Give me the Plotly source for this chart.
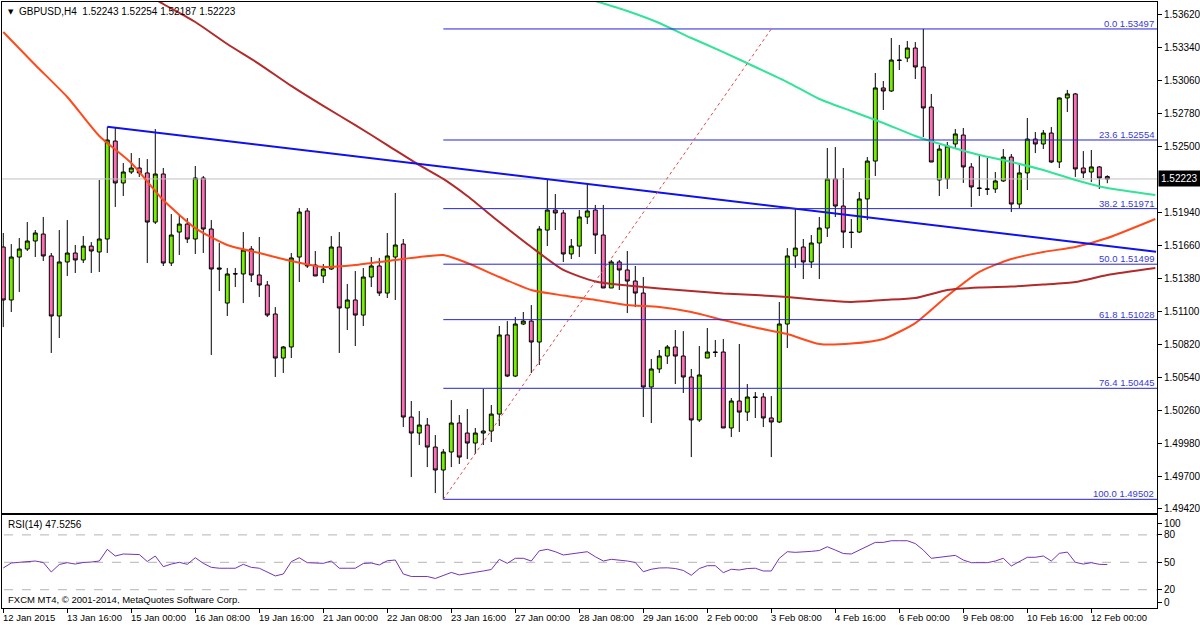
import plotly.graph_objects as go

# ---------------- data ----------------
BARS = list(range(139))
OPEN = [1.51645, 1.51195, 1.51560, 1.51628, 1.51696, 1.51755, 1.51569, 1.51059, 1.51518, 1.51594,
        1.51535, 1.51653, 1.51603, 1.51713, 1.52545, 1.52189, 1.52282, 1.52316, 1.52274, 1.51857,
        1.52265, 1.51509, 1.51772, 1.51840, 1.51713, 1.52231, 1.51798, 1.51467, 1.51169, 1.51416,
        1.51416, 1.51628, 1.51407, 1.51322, 1.51076, 1.50702, 1.50796, 1.51560, 1.51951, 1.51492,
        1.51399, 1.51458, 1.51645, 1.51127, 1.51195, 1.51067, 1.51390, 1.51484, 1.51254, 1.51560,
        1.51670, 1.50201, 1.50065, 1.50133, 1.49946, 1.49751, 1.49904, 1.50150, 1.50065, 1.49980,
        1.50065, 1.50082, 1.50226, 1.50898, 1.50549, 1.50991, 1.51016, 1.50838, 1.51789, 1.51959,
        1.51934, 1.51586, 1.51653, 1.51900, 1.51959, 1.51747, 1.51297, 1.51518, 1.51450, 1.51356,
        1.51254, 1.50456, 1.50609, 1.50719, 1.50796, 1.50719, 1.50541, 1.50176, 1.50702, 1.50753,
        1.50753, 1.50108, 1.50337, 1.50243, 1.50371, 1.50371, 1.50193, 1.50159, 1.50991, 1.51569,
        1.51645, 1.51518, 1.51679, 1.51806, 1.52223, 1.51993, 1.51772, 1.51772, 1.52053, 1.52375,
        1.52996, 1.52970, 1.53233, 1.53250, 1.53335, 1.53174, 1.52834, 1.52214, 1.52223, 1.52520,
        1.52596, 1.52325, 1.52146, 1.52138, 1.52138, 1.52206, 1.52409, 1.52010, 1.52274, 1.52562,
        1.52520, 1.52613, 1.52367, 1.52911, 1.52945, 1.52316, 1.52282, 1.52325, 1.52243]
HIGH = [1.51764, 1.51670, 1.51721, 1.51857, 1.51789, 1.51900, 1.51594, 1.51789, 1.51874, 1.51662,
        1.51738, 1.51687, 1.52214, 1.52664, 1.52656, 1.52358, 1.52443, 1.52401, 1.52392, 1.52647,
        1.52316, 1.51925, 1.51925, 1.51891, 1.52333, 1.52248, 1.51874, 1.51679, 1.51467, 1.51467,
        1.51772, 1.51653, 1.51730, 1.51356, 1.51135, 1.50804, 1.51594, 1.51976, 1.51976, 1.51611,
        1.51501, 1.51738, 1.51772, 1.51331, 1.51441, 1.51467, 1.51560, 1.51552, 1.51764, 1.52104,
        1.51713, 1.50337, 1.50252, 1.50193, 1.50048, 1.49929, 1.50345, 1.50218, 1.50269, 1.50108,
        1.50439, 1.50303, 1.50974, 1.51016, 1.51050, 1.51093, 1.51152, 1.51823, 1.52214, 1.52095,
        1.51959, 1.51713, 1.51959, 1.52189, 1.52002, 1.52002, 1.51535, 1.51535, 1.51611, 1.51484,
        1.51390, 1.50694, 1.50770, 1.50813, 1.50940, 1.50931, 1.50609, 1.50804, 1.50957, 1.50855,
        1.50864, 1.50362, 1.50821, 1.50481, 1.50413, 1.50405, 1.50379, 1.51178, 1.51636, 1.51968,
        1.51713, 1.51747, 1.51900, 1.52486, 1.52494, 1.52316, 1.51883, 1.52112, 1.52409, 1.53123,
        1.53055, 1.53420, 1.53361, 1.53395, 1.53386, 1.53497, 1.52945, 1.52511, 1.52537, 1.52647,
        1.52656, 1.52358, 1.52426, 1.52401, 1.52282, 1.52477, 1.52435, 1.52358, 1.52741, 1.52622,
        1.52639, 1.52664, 1.52915, 1.52979, 1.52953, 1.52460, 1.52469, 1.52333, 1.52254]
LOW = [1.50965, 1.51093, 1.51263, 1.51611, 1.51560, 1.51526, 1.50745, 1.50872, 1.51399, 1.51424,
       1.51509, 1.51424, 1.51433, 1.51594, 1.51985, 1.52078, 1.52265, 1.52240, 1.51509, 1.51840,
       1.51484, 1.51484, 1.51577, 1.51679, 1.51586, 1.51594, 1.50728, 1.51271, 1.51059, 1.51305,
       1.51169, 1.51348, 1.51220, 1.51050, 1.50541, 1.50575, 1.50702, 1.51348, 1.51467, 1.51399,
       1.51339, 1.51450, 1.50745, 1.50940, 1.50804, 1.50974, 1.51305, 1.51229, 1.51212, 1.51195,
       1.50116, 1.49691, 1.49963, 1.49776, 1.49555, 1.49502, 1.49776, 1.49802, 1.49844, 1.49887,
       1.49963, 1.49989, 1.50125, 1.50541, 1.50541, 1.50982, 1.50575, 1.50643, 1.51653, 1.51789,
       1.51518, 1.51543, 1.51560, 1.51840, 1.51586, 1.51297, 1.51297, 1.51280, 1.51084, 1.51135,
       1.50201, 1.50150, 1.50575, 1.50651, 1.50481, 1.50405, 1.49861, 1.50159, 1.50702, 1.50711,
       1.50108, 1.50031, 1.50074, 1.50167, 1.50193, 1.50116, 1.49861, 1.50150, 1.50787, 1.51467,
       1.51373, 1.51467, 1.51373, 1.51730, 1.51900, 1.51636, 1.51636, 1.51764, 1.51874, 1.52248,
       1.52809, 1.52962, 1.53148, 1.53216, 1.53072, 1.52579, 1.52367, 1.52078, 1.52138, 1.52486,
       1.52189, 1.51985, 1.52078, 1.52087, 1.52104, 1.52197, 1.51942, 1.51976, 1.52129, 1.52443,
       1.52477, 1.52358, 1.52316, 1.52792, 1.52240, 1.52231, 1.52197, 1.52138, 1.52187]
CLOSE = [1.51195, 1.51560, 1.51628, 1.51696, 1.51764, 1.51569, 1.51059, 1.51518, 1.51594, 1.51535,
         1.51653, 1.51611, 1.51713, 1.52554, 1.52189, 1.52282, 1.52316, 1.52274, 1.51857, 1.52265,
         1.51509, 1.51747, 1.51840, 1.51713, 1.52231, 1.51798, 1.51458, 1.51458, 1.51416, 1.51418,
         1.51619, 1.51407, 1.51322, 1.51067, 1.50702, 1.50796, 1.51552, 1.51942, 1.51484, 1.51399,
         1.51458, 1.51645, 1.51127, 1.51195, 1.51067, 1.51390, 1.51484, 1.51254, 1.51569, 1.51662,
         1.50201, 1.50065, 1.50133, 1.49946, 1.49751, 1.49904, 1.50150, 1.49861, 1.49980, 1.50065,
         1.50082, 1.50226, 1.50898, 1.50549, 1.50991, 1.51016, 1.50838, 1.51798, 1.51959, 1.51934,
         1.51586, 1.51653, 1.51900, 1.51951, 1.51747, 1.51297, 1.51518, 1.51450, 1.51356, 1.51254,
         1.50456, 1.50609, 1.50719, 1.50796, 1.50719, 1.50541, 1.50176, 1.50558, 1.50753, 1.50750,
         1.50108, 1.50337, 1.50243, 1.50371, 1.50368, 1.50193, 1.50159, 1.50991, 1.51569, 1.51636,
         1.51518, 1.51679, 1.51806, 1.52223, 1.51993, 1.51772, 1.51768, 1.52053, 1.52375, 1.52996,
         1.52970, 1.53233, 1.53230, 1.53335, 1.53174, 1.52826, 1.52367, 1.52477, 1.52503, 1.52605,
         1.52325, 1.52155, 1.52143, 1.52136, 1.52206, 1.52409, 1.52010, 1.52274, 1.52562, 1.52520,
         1.52613, 1.52367, 1.52911, 1.52945, 1.52308, 1.52274, 1.52325, 1.52231, 1.52223]

RSI = [43.8, 49.2, 50.0, 50.9, 51.4, 49.8, 39.4, 47.6, 49.6, 48.1,
       49.8, 50.3, 51.4, 64.2, 56.9, 59.1, 59.1, 58.5, 50.9, 56.9,
       45.2, 48.1, 50.0, 47.8, 55.0, 48.9, 44.5, 43.5, 43.5, 43.5,
       47.8, 44.5, 43.5, 39.4, 35.1, 37.2, 50.7, 55.0, 49.6, 49.2,
       48.9, 51.4, 43.5, 43.5, 43.5, 48.7, 49.2, 47.1, 51.7, 52.5,
       37.2, 34.5, 34.7, 34.5, 32.3, 35.6, 38.9, 36.2, 38.0, 39.1,
       40.5, 42.1, 53.3, 48.9, 54.4, 54.4, 51.4, 62.6, 64.2, 61.6,
       58.0, 59.1, 60.9, 61.6, 56.1, 51.4, 53.3, 52.5, 51.4, 49.8,
       39.7, 42.4, 43.8, 44.0, 43.2, 41.1, 35.8, 43.2, 46.3, 46.3,
       38.7, 42.4, 41.6, 43.2, 43.5, 40.5, 40.5, 54.4, 61.6, 60.9,
       61.2, 62.0, 62.9, 67.0, 63.4, 59.6, 59.1, 63.1, 67.2, 71.8,
       71.8, 73.6, 73.6, 73.6, 70.5, 63.4, 54.4, 55.5, 56.1, 57.6,
       52.5, 49.6, 49.6, 49.6, 51.4, 54.4, 46.0, 51.1, 55.5, 55.5,
       56.9, 51.4, 59.8, 61.2, 50.0, 48.1, 49.6, 47.8, 47.5]

MA_FAST_BARS = [0, 4, 8, 12, 16, 20, 24, 28, 32, 36, 40, 44, 48, 52, 55, 58, 62, 66, 70, 74,
                78, 82, 86, 90, 94, 98, 102, 106, 110, 114, 118, 122, 126, 130, 134, 138, 144]
MA_FAST = [1.53471, 1.53191, 1.52919, 1.52588, 1.52358, 1.52044, 1.51806, 1.51662, 1.51594, 1.51526,
           1.51475, 1.51492, 1.51526, 1.51560, 1.51577, 1.51509, 1.51390, 1.51280, 1.51233, 1.51195,
           1.51152, 1.51135, 1.51093, 1.51025, 1.50961, 1.50906, 1.50821, 1.50825, 1.50864, 1.50999,
           1.51229, 1.51433, 1.51543, 1.51603, 1.51645, 1.51721, 1.51883]
MA_MID_BARS = [16, 20, 24, 28, 32, 36, 40, 44, 48, 52, 55, 58, 62, 66, 70, 74, 78, 82, 86, 90,
               94, 98, 102, 106, 110, 114, 118, 122, 126, 130, 134, 138, 144]
MA_MID = [1.53870, 1.53709, 1.53556, 1.53369, 1.53199, 1.53013, 1.52843, 1.52681, 1.52511, 1.52341,
          1.52223, 1.52078, 1.51857, 1.51645, 1.51450, 1.51352, 1.51318, 1.51292, 1.51271, 1.51250,
          1.51237, 1.51220, 1.51195, 1.51178, 1.51195, 1.51212, 1.51280, 1.51301, 1.51309, 1.51326,
          1.51348, 1.51407, 1.51467]
MA_SLOW_BARS = [72, 74, 78, 82, 86, 90, 94, 98, 102, 106, 110, 114, 118, 122, 126, 130, 134, 138, 144]
MA_SLOW = [1.53777, 1.53735, 1.53650, 1.53548, 1.53420, 1.53301, 1.53174, 1.53046, 1.52902, 1.52800,
           1.52698, 1.52588, 1.52503, 1.52426, 1.52367, 1.52299, 1.52214, 1.52146, 1.52087]

TREND_BARS = [13, 144.1]
TREND_PRICES = [1.52667, 1.51605]
FIB_ANCHOR_BARS = [55, 96]
FIB_ANCHOR_PRICES = [1.49502, 1.53497]
FIB_RATIOS = ["0.0", "23.6", "38.2", "50.0", "61.8", "76.4", "100.0"]
FIB_LEVELS = [1.53497, 1.52554, 1.51971, 1.51499, 1.51028, 1.50445, 1.49502]
FIB_START_BAR = 55
LAST_PRICE = 1.52223

TIME_LABEL_BARS = list(range(0, 137, 8))
TIME_LABELS = ["12 Jan 2015", "13 Jan 16:00", "15 Jan 00:00", "16 Jan 08:00", "19 Jan 16:00",
               "21 Jan 00:00", "22 Jan 08:00", "23 Jan 16:00", "27 Jan 00:00", "28 Jan 08:00",
               "29 Jan 16:00", "2 Feb 00:00", "3 Feb 08:00", "4 Feb 16:00", "6 Feb 00:00",
               "9 Feb 08:00", "10 Feb 16:00", "12 Feb 00:00"]
PRICE_TICKS = [1.53620, 1.53340, 1.53060, 1.52780, 1.52500, 1.51940, 1.51660, 1.51380,
               1.51100, 1.50820, 1.50540, 1.50260, 1.49980, 1.49700, 1.49420]
RSI_LEVELS = [80, 50, 20]
RSI_TICKS = [93, 80, 50, 20, 6.3]
RSI_TICKTEXT = ["100", "80", "50", "20", "0"]

X_RANGE = [-0.16, 144.21]
Y_RANGE = [1.49386, 1.53726]
RSI_RANGE = [0, 101.8]

FONT = "Liberation Sans, Arial, sans-serif"
FIB_COLOR = "#2424D8"

fig = go.Figure()

# last price line
fig.add_trace(go.Scatter(x=[X_RANGE[0] - 2, X_RANGE[1] + 2], y=[LAST_PRICE, LAST_PRICE],
                         mode="lines", line=dict(color="#C0C0C0", width=1),
                         xaxis="x", yaxis="y", showlegend=False, hoverinfo="skip"))

fig.add_trace(go.Candlestick(
    x=BARS, open=OPEN, high=HIGH, low=LOW, close=CLOSE,
    increasing=dict(fillcolor="#76EE00", line=dict(color="black", width=1)),
    decreasing=dict(fillcolor="#FF6EB4", line=dict(color="black", width=1)),
    whiskerwidth=0, xaxis="x", yaxis="y", showlegend=False))

for bx, vals, col in [(MA_FAST_BARS, MA_FAST, "#FF4A1C"),
                      (MA_MID_BARS, MA_MID, "#B22A2A"),
                      (MA_SLOW_BARS, MA_SLOW, "#33E39A")]:
    fig.add_trace(go.Scatter(x=bx, y=vals, mode="lines",
                             line=dict(color=col, width=2, shape="spline", smoothing=0.6),
                             xaxis="x", yaxis="y", showlegend=False, hoverinfo="skip"))

fig.add_trace(go.Scatter(x=TREND_BARS, y=TREND_PRICES, mode="lines",
                         line=dict(color="#1010F0", width=2),
                         xaxis="x", yaxis="y", showlegend=False, hoverinfo="skip"))

for lvl in FIB_LEVELS:
    fig.add_trace(go.Scatter(x=[FIB_START_BAR, X_RANGE[1] + 2], y=[lvl, lvl], mode="lines",
                             line=dict(color=FIB_COLOR, width=1),
                             xaxis="x", yaxis="y", showlegend=False, hoverinfo="skip"))

fig.add_trace(go.Scatter(x=FIB_ANCHOR_BARS, y=FIB_ANCHOR_PRICES, mode="lines",
                         line=dict(color="#E04848", width=1, dash="dot"),
                         xaxis="x", yaxis="y", showlegend=False, hoverinfo="skip"))

# RSI
for lv in RSI_LEVELS:
    fig.add_trace(go.Scatter(x=[X_RANGE[0] - 2, X_RANGE[1] + 2], y=[lv, lv], mode="lines",
                             line=dict(color="#B4B4B4", width=1, dash="dash"),
                             xaxis="x2", yaxis="y2", showlegend=False, hoverinfo="skip"))
fig.add_trace(go.Scatter(x=BARS, y=RSI, mode="lines", line=dict(color="#7434B4", width=1),
                         xaxis="x2", yaxis="y2", showlegend=False, hoverinfo="skip"))

MAIN_DOM = [0.1568, 1.0]
RSI_DOM = [0.0, 0.1535]

axis_common = dict(showgrid=False, zeroline=False, showline=True, mirror=True,
                   linecolor="black", linewidth=1)

fig.update_layout(
    width=1200, height=627,
    margin=dict(l=2, r=43, t=2, b=19),
    paper_bgcolor="white", plot_bgcolor="white",
    font=dict(family=FONT, size=10, color="black"),
    xaxis=dict(domain=[0, 1], anchor="y", range=X_RANGE, showticklabels=False,
               rangeslider=dict(visible=False), **axis_common),
    yaxis=dict(domain=MAIN_DOM, anchor="x", side="right", range=Y_RANGE,
               tickvals=PRICE_TICKS, tickformat=".5f", ticks="outside", ticklen=4,
               tickcolor="black", tickfont=dict(family=FONT, size=10), automargin=False,
               **axis_common),
    xaxis2=dict(domain=[0, 1], anchor="y2", range=X_RANGE, matches="x",
                tickvals=TIME_LABEL_BARS, showticklabels=False, ticks="outside",
                ticklen=4, tickcolor="black", **axis_common),
    yaxis2=dict(domain=RSI_DOM, anchor="x2", side="right", range=RSI_RANGE,
                tickvals=RSI_TICKS, ticktext=RSI_TICKTEXT, ticks="outside", ticklen=4,
                tickcolor="black", tickfont=dict(family=FONT, size=10), automargin=False,
                **axis_common),
    hovermode=False,
)

ann = []
for b, t in zip(TIME_LABEL_BARS, TIME_LABELS):
    ann.append(dict(x=b, xref="x2", y=0, yref="paper", text=t, showarrow=False,
                    xanchor="left", yanchor="top", xshift=-2, yshift=-2,
                    font=dict(family=FONT, size=9.5)))
for r, lvl in zip(FIB_RATIOS, FIB_LEVELS):
    ann.append(dict(x=1, xref="paper", y=lvl, yref="y", text=f"{r} {lvl:.5f}",
                    showarrow=False, xanchor="right", yanchor="bottom", xshift=-1, yshift=-2,
                    font=dict(family=FONT, size=9.5, color="#3A3AD0")))
ann.append(dict(x=1, xref="paper", y=LAST_PRICE, yref="y", text=f"{LAST_PRICE:.5f}",
                showarrow=False, xanchor="left", yanchor="middle", xshift=1,
                bgcolor="black", borderpad=2, font=dict(family=FONT, size=10, color="white")))
ann.append(dict(x=0, xref="paper", y=1, yref="paper", text="▼", showarrow=False,
                xanchor="left", yanchor="top", xshift=4, yshift=-4,
                font=dict(family="DejaVu Sans", size=7)))
ann.append(dict(x=0, xref="paper", y=1, yref="paper",
                text="GBPUSD,H4\u00a0\u00a01.52243 1.52254 1.52187 1.52223", showarrow=False,
                xanchor="left", yanchor="top", xshift=15, yshift=-2,
                font=dict(family=FONT, size=10)))
ann.append(dict(x=0, xref="paper", y=RSI_DOM[1], yref="paper", text="RSI(14) 47.5256",
                showarrow=False, xanchor="left", yanchor="top", xshift=4, yshift=-2,
                font=dict(family=FONT, size=10)))
ann.append(dict(x=0, xref="paper", y=0, yref="paper",
                text="FXCM MT4, © 2001-2014, MetaQuotes Software Corp.",
                showarrow=False, xanchor="left", yanchor="bottom", xshift=4, yshift=1,
                font=dict(family=FONT, size=9.5)))
fig.update_layout(annotations=ann)

fig.write_html("out.html", config={"displayModeBar": False},
               post_script="document.body.style.margin='0px';document.body.style.padding='0px';")
